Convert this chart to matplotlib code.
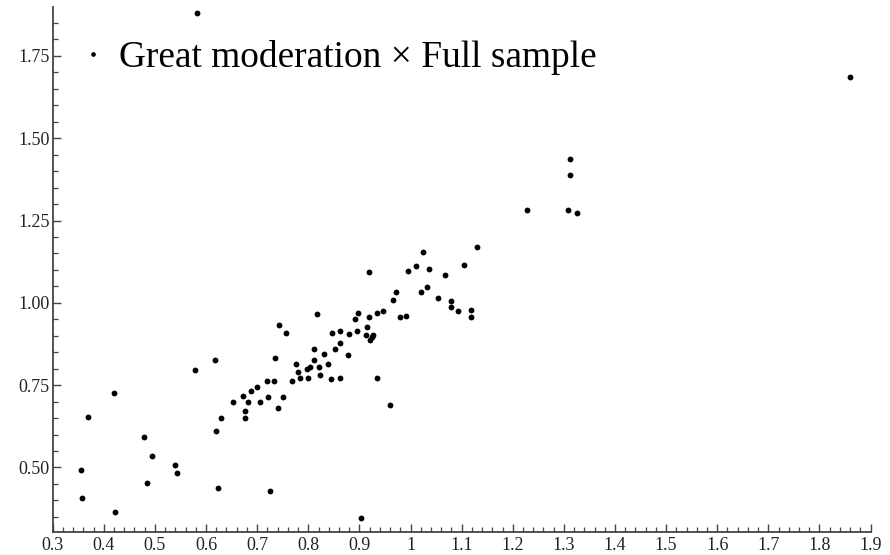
import matplotlib
matplotlib.use("Agg")
import matplotlib.pyplot as plt
from matplotlib.ticker import MultipleLocator, FuncFormatter

# values
x_vals = [0.355, 0.358, 0.370, 0.420, 0.4225, 0.479, 0.484, 0.494, 0.540, 0.543,
          0.578, 0.617, 0.620, 0.629, 0.623, 0.652, 0.673, 0.676, 0.676, 0.682,
          0.687, 0.700, 0.706, 0.720, 0.721, 0.732, 0.726, 0.735, 0.741, 0.750,
          0.743, 0.756, 0.768, 0.776, 0.779, 0.783, 0.797, 0.803, 0.800, 0.811,
          0.812, 0.817, 0.821, 0.823, 0.830, 0.838, 0.844, 0.847, 0.853, 0.862,
          0.862, 0.862, 0.877, 0.880, 0.892, 0.895, 0.897, 0.912, 0.915, 0.918,
          0.918, 0.921, 0.924, 0.927, 0.935, 0.935, 0.947, 0.959, 0.965, 0.971,
          0.980, 0.991, 0.995, 1.010, 1.021, 1.025, 1.033, 1.036, 1.053, 1.068,
          1.080, 1.080, 1.092, 1.104, 1.119, 1.119, 1.130, 0.582, 1.859, 1.312,
          1.312, 1.309, 1.325, 1.227, 0.903]
y_vals = [0.493, 0.406, 0.654, 0.727, 0.366, 0.594, 0.453, 0.535, 0.507, 0.484,
          0.796, 0.827, 0.612, 0.649, 0.439, 0.700, 0.718, 0.673, 0.649, 0.700,
          0.732, 0.745, 0.700, 0.763, 0.714, 0.763, 0.429, 0.832, 0.681, 0.714,
          0.933, 0.910, 0.763, 0.814, 0.791, 0.772, 0.800, 0.806, 0.772, 0.860,
          0.827, 0.965, 0.805, 0.782, 0.845, 0.814, 0.768, 0.910, 0.860, 0.915,
          0.879, 0.773, 0.842, 0.905, 0.952, 0.915, 0.970, 0.901, 0.928, 1.093,
          0.956, 0.888, 0.896, 0.901, 0.970, 0.772, 0.975, 0.690, 1.010, 1.034,
          0.956, 0.960, 1.098, 1.112, 1.034, 1.153, 1.048, 1.102, 1.015, 1.084,
          1.006, 0.988, 0.975, 1.116, 0.979, 0.956, 1.171, 1.880, 1.687, 1.437,
          1.387, 1.282, 1.272, 1.282, 0.346]
series_label = "Great moderation \u00d7 Full sample"

plt.rcParams['font.family'] = ['Liberation Serif', 'DejaVu Serif']

fig = plt.figure(figsize=(8.9, 5.55), dpi=100)
ax = fig.add_axes([0.0592, 0.042, 0.919, 0.945])

ax.plot(x_vals, y_vals, 'o', color='black', markersize=4.2, markeredgewidth=0,
        label=series_label, clip_on=False)

ax.set_xlim(0.3, 1.9)
ax.set_ylim(0.305, 1.898)

axis_col = '#444444'
for side in ['top', 'right']:
    ax.spines[side].set_visible(False)
for side in ['left', 'bottom']:
    ax.spines[side].set_color(axis_col)
    ax.spines[side].set_linewidth(1.3)

ax.xaxis.set_major_locator(MultipleLocator(0.1))
ax.xaxis.set_minor_locator(MultipleLocator(0.02))
ax.yaxis.set_major_locator(MultipleLocator(0.25))
ax.yaxis.set_minor_locator(MultipleLocator(0.05))

def xfmt(v, pos):
    s = f"{v:.1f}"
    return "1" if s == "1.0" else s

ax.xaxis.set_major_formatter(FuncFormatter(xfmt))
ax.yaxis.set_major_formatter(FuncFormatter(lambda v, p: f"{v:.2f}"))

ax.tick_params(which='major', direction='in', length=6, width=1.0, color=axis_col,
               labelsize=13, labelcolor='#222222', pad=2)
ax.tick_params(axis='x', which='major', pad=3.5)
ax.tick_params(which='minor', direction='in', length=3.5, width=0.9, color=axis_col)

fs = 26.9
leg = ax.legend(loc='center left', bbox_to_anchor=(86 / 890, 1 - 57.5 / 555),
                bbox_transform=fig.transFigure, frameon=False, fontsize=fs,
                borderpad=0, borderaxespad=0, handlelength=0.4,
                handletextpad=0.47, markerscale=0.8)

fig.savefig("out.png", dpi=100)
